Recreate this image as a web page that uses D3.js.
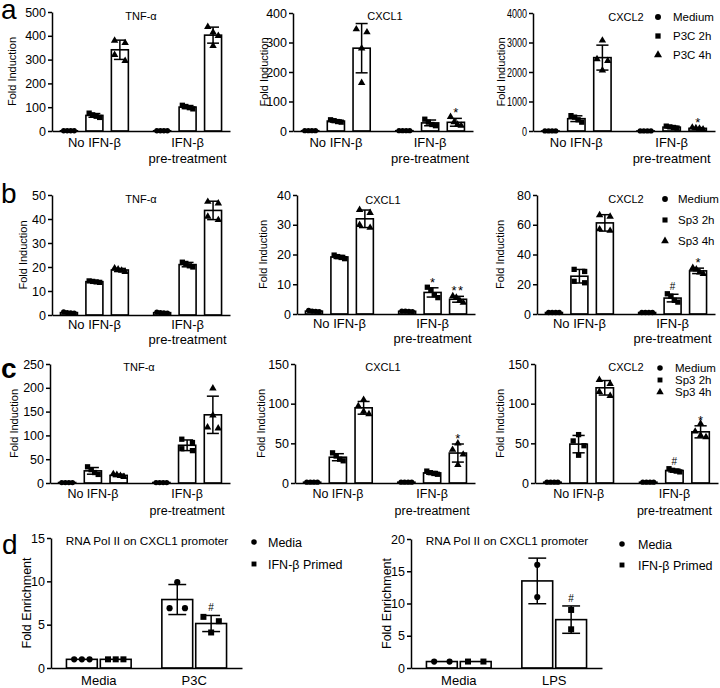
<!DOCTYPE html>
<html>
<head>
<meta charset="utf-8">
<script src="https://cdn.jsdelivr.net/npm/d3@7"></script>
<style>
  body { margin: 0; background: #fff; }
  svg text { font-family: "Liberation Sans", Arial, Helvetica, sans-serif; fill: #000; }
</style>
</head>
<body>
<script>
// ---------- data ----------
const groupsABC = ['No IFN-β', 'IFN-β\npre-treatment'];
const seriesP3C = ['Medium', 'P3C 2h', 'P3C 4h'];
const seriesSp3 = ['Medium', 'Sp3 2h', 'Sp3 4h'];
const groupsD1 = ['Media', 'P3C'];
const groupsD2 = ['Media', 'LPS'];
const seriesD = ['Media', 'IFN-β Primed'];

// replicates per bar: No IFN-β (Medium, 2h, 4h) then IFN-β pre-treatment (Medium, 2h, 4h)
const aTNF = [[1, 1, 1, 1], [75, 68, 62, 57], [380, 370, 320, 295], [1, 1, 1, 1], [108, 103, 98, 93], [438, 415, 400, 358]];
const aCXCL1 = [[1, 1, 1, 1], [38, 35, 32, 30], [345, 335, 280, 163], [1, 1, 1, 1], [40, 30, 22, 18], [48, 30, 22, 18]];
const aCXCL2 = [[1, 1, 1, 1], [520, 470, 380, 300], [3070, 2440, 2380, 2060], [1, 1, 1, 1], [165, 140, 120, 100], [120, 100, 80, 60]];

const bTNF = [[1.3, 1.0, 0.8, 0.9], [14.2, 14.0, 13.8, 13.6], [19.5, 19.0, 18.5, 18.0], [1.2, 1.0, 0.9, 0.8], [22.0, 21.5, 20.5, 20.0], [47.2, 46.5, 41, 39.6]];
const bCXCL1 = [[1.2, 1, 0.9, 0.8], [19.8, 19.3, 19.0, 18.6], [35, 34, 30, 29], [1, 1, 0.9, 0.8], [9, 8, 6.5, 5.5], [6, 5.5, 4.5, 3.8]];
const bCXCL2 = [[1, 1, 1, 1], [30, 28.6, 22, 21], [66.5, 65.5, 57, 56], [1, 1, 1, 1], [13.6, 12, 9.2, 8], [31, 30, 28, 27]];

const cTNF = [[1, 1, 1, 1], [34, 28, 22, 18], [19, 17, 15, 13], [1, 1, 1, 1], [92, 85, 72, 68], [199, 142, 117, 115]];
const cCXCL1 = [[1, 1, 1, 1], [38, 34, 30, 28], [105, 97, 90, 87], [1, 1, 1, 1], [15, 13, 12, 11], [50, 42, 36, 23]];
const cCXCL2 = [[1, 1, 1, 1], [61, 53, 47, 35], [130, 125, 115, 110], [1, 1, 1, 1], [18, 16, 15, 14], [75, 65, 60, 58]];

// replicates per bar: Media (Media, Primed) then stimulus (Media, Primed)
const dP3C = [[1, 1, 1], [1, 1, 1], [9.9, 6.9, 6.9], [5.9, 5.4, 4.1]];
const dLPS = [[1, 1], [1, 1], [16, 11], [9, 6]];

// significance marks, same order as the bars
const aCXCL1Sig = ['', '', '', '', '', '*'];
const aCXCL2Sig = ['', '', '', '', '', '*'];
const bCXCL1Sig = ['', '', '', '', '*', '**'];
const bCXCL2Sig = ['', '', '', '', '#', '*'];
const cCXCL1Sig = ['', '', '', '', '', '*'];
const cCXCL2Sig = ['', '', '', '', '#', '*'];
const dP3CSig = ['', '', '', '#'];
const dLPSSig = ['', '', '', '#'];

// y tick labels
const aTNFTicks = [0, 100, 200, 300, 400, 500];
const aCXCL1Ticks = [0, 100, 200, 300, 400];
const aCXCL2Ticks = [0, 1000, 2000, 3000, 4000];
const bTNFTicks = [0, 10, 20, 30, 40, 50];
const bCXCL1Ticks = [0, 10, 20, 30, 40];
const bCXCL2Ticks = [0, 20, 40, 60, 80];
const cTNFTicks = [0, 50, 100, 150, 200, 250];
const cCXCL1Ticks = [0, 50, 100, 150];
const cCXCL2Ticks = [0, 50, 100, 150];
const dP3CTicks = [0, 5, 10, 15];
const dLPSTicks = [0, 5, 10, 15, 20];

// ---------- drawing ----------
const svg = d3.select('body').append('svg').attr('width', 720).attr('height', 688);

const shapes = [d3.symbolCircle, d3.symbolSquare, d3.symbolTriangle];

// layout shared by the rows
const rowABC = { gpi: 0.18, gpo: 0.045, spi: 0.333, spo: 0.167, cap: 0.7, span: 0.62, xFont: 13, yFont: 12.5, yTitle: 'Fold Induction', yTitleFont: 11, sizes: [22, 28, 24] };
const rowD = { gpi: 0.29, gpo: 0.146, spi: 0.09, spo: 0.045, cap: 0.58, span: 0.5, xFont: 13, yFont: 12.5, yTitle: 'Fold Enrichment', yTitleFont: 12.5, sizes: [30, 36], pad: 8, gap: 15 };

// split points into overlapping clusters and spread each one sideways
function spread(vals, y, span) {
  const pts = vals.map((v) => ({ v, py: y(v) })).sort((a, b) => a.py - b.py);
  const out = [];
  let cluster = [];
  const flush = () => {
    cluster.forEach((p, k) => {
      p.dx = cluster.length > 1 ? -span / 2 + (span * k) / (cluster.length - 1) : 0;
      out.push(p);
    });
    cluster = [];
  };
  pts.forEach((p) => {
    if (cluster.length && p.py - cluster[cluster.length - 1].py > 6) flush();
    cluster.push(p);
  });
  flush();
  return out;
}

function drawChart(c) {
  const g = svg.append('g');
  const y = d3.scaleLinear().domain([0, d3.max(c.ticks)]).range([c.zero, c.top]);
  const x0 = d3.scaleBand().domain(c.groups).range([c.left, c.right]).paddingInner(c.gpi).paddingOuter(c.gpo);
  const x1 = d3.scaleBand().domain(c.series).range([0, x0.bandwidth()]).paddingInner(c.spi).paddingOuter(c.spo);
  const bw = x1.bandwidth();
  const ns = c.series.length;

  const bars = c.data.map((vals, i) => {
    const mean = d3.mean(vals);
    const sd = d3.deviation(vals) || 0;
    const xl = x0(c.groups[Math.floor(i / ns)]) + x1(c.series[i % ns]);
    return { vals, mean, sd, xl, cx: xl + bw / 2, s: i % ns, sig: c.sig ? c.sig[i] : '' };
  });

  // bars
  g.selectAll('rect.bar')
    .data(bars)
    .join('rect')
    .attr('class', 'bar')
    .attr('x', (d) => d.xl)
    .attr('y', (d) => y(d.mean))
    .attr('width', bw)
    .attr('height', (d) => c.zero - y(d.mean))
    .attr('fill', '#fff')
    .attr('stroke', '#000')
    .attr('stroke-width', 1.6);

  // error bars (mean ± SD)
  const eb = g.selectAll('g.err').data(bars.filter((d) => d.sd > 0)).join('g').attr('class', 'err')
    .attr('stroke', '#000').attr('stroke-width', 1.5);
  const capW = bw * c.cap;
  eb.append('line')
    .attr('x1', (d) => d.cx).attr('x2', (d) => d.cx)
    .attr('y1', (d) => y(Math.max(0, d.mean - d.sd))).attr('y2', (d) => y(d.mean + d.sd));
  eb.append('line')
    .attr('x1', (d) => d.cx - capW / 2).attr('x2', (d) => d.cx + capW / 2)
    .attr('y1', (d) => y(d.mean + d.sd)).attr('y2', (d) => y(d.mean + d.sd));
  eb.append('line')
    .attr('x1', (d) => d.cx - capW / 2).attr('x2', (d) => d.cx + capW / 2)
    .attr('y1', (d) => y(Math.max(0, d.mean - d.sd))).attr('y2', (d) => y(Math.max(0, d.mean - d.sd)));

  // replicate points
  bars.forEach((b) => {
    const sym = d3.symbol().type(shapes[b.s]).size(c.sizes[b.s]);
    g.selectAll(null)
      .data(spread(b.vals, y, bw * c.span))
      .join('path')
      .attr('d', sym)
      .attr('transform', (p) => `translate(${b.cx + p.dx},${p.py})`)
      .attr('fill', '#000');
  });

  // significance marks
  g.selectAll('text.sig')
    .data(bars.filter((d) => d.sig))
    .join('text')
    .attr('class', 'sig')
    .attr('x', (d) => d.cx)
    .attr('y', (d) => y(d.mean + d.sd) - (d.sig === '#' ? 4 : 1))
    .attr('text-anchor', 'middle')
    .attr('font-size', (d) => (d.sig === '#' ? 10 : 13))
    .attr('letter-spacing', (d) => (d.sig === '**' ? 1.5 : 0))
    .text((d) => d.sig);

  // y axis
  const ya = g.append('g')
    .attr('transform', `translate(${c.left},0)`)
    .call(d3.axisLeft(y).tickValues(c.ticks).tickFormat(d3.format('d')).tickSize(4).tickSizeOuter(0).tickPadding(2))
    .attr('font-family', null)
    .attr('font-size', c.yFont);
  ya.selectAll('path, line').attr('stroke-width', 1.5);
  if (c.condense) {
    // long tick labels are squeezed in the original figure
    ya.selectAll('.tick text').each(function () {
      const w = this.getComputedTextLength();
      d3.select(this).attr('textLength', w * c.condense).attr('lengthAdjust', 'spacingAndGlyphs');
    });
  }

  // x axis with group labels
  const xa = g.append('g')
    .attr('transform', `translate(0,${c.zero})`)
    .call(d3.axisBottom(x0).tickSize(0).tickSizeOuter(0).tickPadding(c.pad))
    .attr('font-family', null)
    .attr('font-size', c.xFont);
  xa.select('.domain').attr('stroke-width', 1.5);
  xa.selectAll('.tick text').each(function (d) {
    const t = d3.select(this).attr('dy', null).text(null);
    d.split('\n').forEach((line, i) => {
      t.append('tspan').attr('x', 0).attr('dy', i === 0 ? '0.71em' : c.gap).text(line);
    });
  });

  // y title
  g.append('text')
    .attr('transform', `translate(${c.yTitleX},${(c.top + c.zero) / 2}) rotate(-90)`)
    .attr('text-anchor', 'middle')
    .attr('font-size', c.yTitleFont)
    .text(c.yTitle);

  // chart title
  g.append('text')
    .attr('x', c.titleX)
    .attr('y', c.titleY)
    .attr('text-anchor', 'middle')
    .attr('font-size', c.titleFont || 11)
    .text(c.title);

  // legend
  if (c.legend) {
    const L = c.legend;
    const items = g.selectAll('g.leg').data(c.series).join('g').attr('class', 'leg')
      .attr('transform', (d, i) => `translate(${L.x},${L.ys[i]})`);
    items.append('path')
      .attr('d', (d, i) => d3.symbol().type(shapes[i]).size(L.size)())
      .attr('fill', '#000');
    items.append('text')
      .attr('x', L.dx)
      .attr('y', L.font * 0.36)
      .attr('font-size', L.font)
      .text((d) => d);
  }
}

const charts = [
  // row a
  { ...rowABC, data: aTNF, ticks: aTNFTicks, title: 'TNF-α', groups: groupsABC, series: seriesP3C,
    left: 52, right: 230, top: 12, zero: 131, pad: 7, gap: 16, titleX: 141, titleY: 20, yTitleX: 16 },
  { ...rowABC, data: aCXCL1, sig: aCXCL1Sig, ticks: aCXCL1Ticks, title: 'CXCL1', groups: groupsABC, series: seriesP3C,
    left: 293, right: 473, top: 13, zero: 131, pad: 7, gap: 16, titleX: 385, titleY: 20, yTitleX: 268 },
  { ...rowABC, data: aCXCL2, sig: aCXCL2Sig, ticks: aCXCL2Ticks, title: 'CXCL2', groups: groupsABC, series: seriesP3C,
    left: 533, right: 715, top: 13, zero: 131, pad: 7, gap: 16, titleX: 626, titleY: 21, yTitleX: 505, condense: 0.72,
    legend: { x: 658, dx: 15, ys: [17, 36, 55], font: 11.5, size: 28 } },
  // row b
  { ...rowABC, data: bTNF, ticks: bTNFTicks, title: 'TNF-α', groups: groupsABC, series: seriesSp3,
    left: 52, right: 230, top: 195, zero: 315, pad: 5, gap: 15, titleX: 141, titleY: 203, yTitleX: 27 },
  { ...rowABC, data: bCXCL1, sig: bCXCL1Sig, ticks: bCXCL1Ticks, title: 'CXCL1', groups: groupsABC, series: seriesSp3,
    left: 297, right: 475, top: 195, zero: 314, pad: 5, gap: 15, titleX: 383, titleY: 204, yTitleX: 267 },
  { ...rowABC, data: bCXCL2, sig: bCXCL2Sig, ticks: bCXCL2Ticks, title: 'CXCL2', groups: groupsABC, series: seriesSp3,
    left: 537, right: 715, top: 195, zero: 314, pad: 5, gap: 15, titleX: 626, titleY: 203, yTitleX: 504,
    legend: { x: 665, dx: 13, ys: [199, 220, 241], font: 11.5, size: 26 } },
  // row c
  { ...rowABC, data: cTNF, ticks: cTNFTicks, title: 'TNF-α', groups: groupsABC, series: seriesSp3, xFont: 12.5,
    left: 50, right: 230, top: 364, zero: 483, pad: 6, gap: 17, titleX: 139, titleY: 371, yTitleX: 18 },
  { ...rowABC, data: cCXCL1, sig: cCXCL1Sig, ticks: cCXCL1Ticks, title: 'CXCL1', groups: groupsABC, series: seriesSp3, xFont: 12.5,
    left: 295, right: 475, top: 364, zero: 483, pad: 6, gap: 17, titleX: 383, titleY: 371, yTitleX: 265 },
  { ...rowABC, data: cCXCL2, sig: cCXCL2Sig, ticks: cCXCL2Ticks, title: 'CXCL2', groups: groupsABC, series: seriesSp3, xFont: 12.5,
    left: 535, right: 718, top: 364, zero: 483, pad: 6, gap: 17, titleX: 626, titleY: 371, yTitleX: 504,
    legend: { x: 660, dx: 15, ys: [368, 380, 392], font: 11.5, size: 24 } },
  // row d
  { ...rowD, data: dP3C, sig: dP3CSig, ticks: dP3CTicks, title: 'RNA Pol II on CXCL1 promoter', titleFont: 11.8,
    groups: groupsD1, series: seriesD, left: 51, right: 242, top: 538, zero: 668, titleX: 147, titleY: 545, yTitleX: 31,
    legend: { x: 254, dx: 14, ys: [542, 564], font: 12.5, size: 24 } },
  { ...rowD, data: dLPS, sig: dLPSSig, ticks: dLPSTicks, title: 'RNA Pol II on CXCL1 promoter', titleFont: 11.8,
    groups: groupsD2, series: seriesD, left: 411, right: 602, top: 539, zero: 668, titleX: 507, titleY: 545, yTitleX: 391,
    legend: { x: 622, dx: 16, ys: [544, 565], font: 12.5, size: 24 } }
];

charts.forEach(drawChart);

// panel letters
const letters = [
  { t: 'a', x: 1, y: 19, w: 'normal' },
  { t: 'b', x: 1, y: 203, w: 'normal' },
  { t: 'c', x: 1, y: 378, w: 'bold' },
  { t: 'd', x: 2, y: 554, w: 'normal' }
];
svg.selectAll('text.letter')
  .data(letters)
  .join('text')
  .attr('class', 'letter')
  .attr('x', (d) => d.x)
  .attr('y', (d) => d.y)
  .attr('font-size', 28)
  .attr('font-weight', (d) => d.w)
  .text((d) => d.t);
</script>
</body>
</html>
